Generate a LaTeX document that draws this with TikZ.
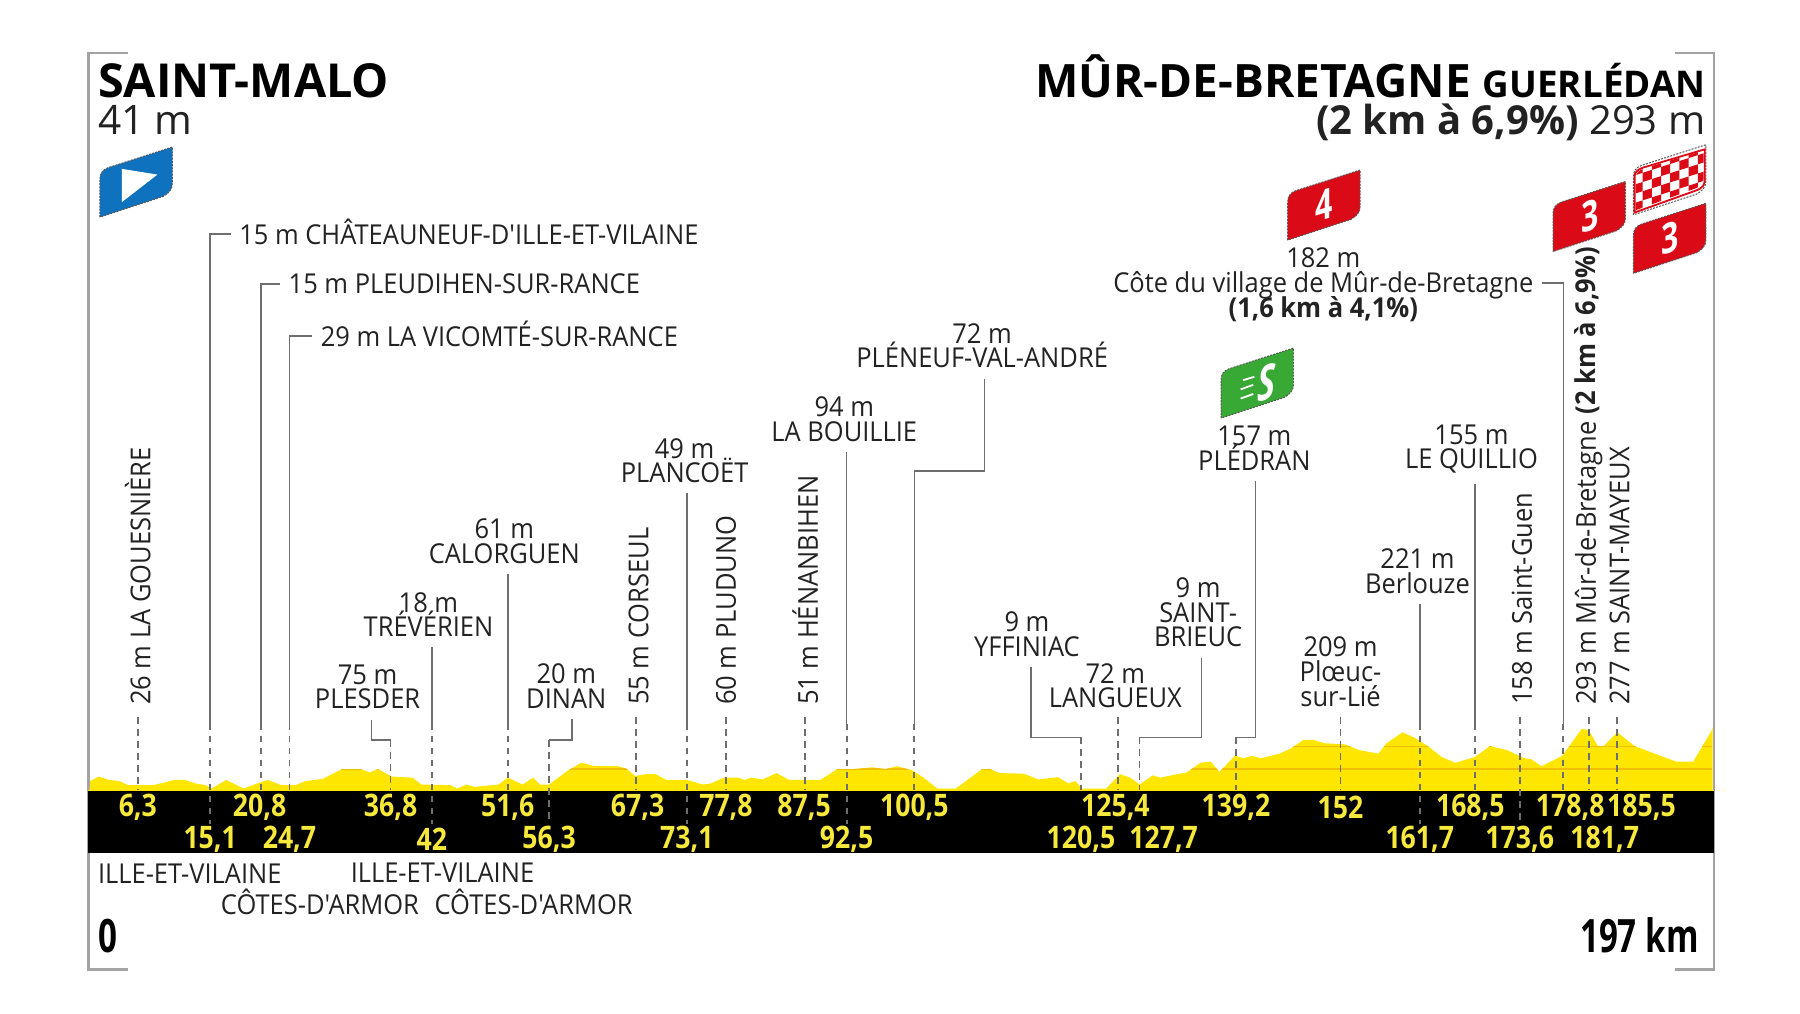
\documentclass[tikz,border=0pt]{standalone}
\usepackage{fontspec}
\setmainfont{Open Sans}
\newfontfamily\labelfont[FakeStretch=.93]{Open Sans}
\newfontfamily\numfont[FakeStretch=.86]{Open Sans}
\newfontfamily\bigfont[FakeStretch=.72]{Open Sans}
\newcommand\placefont{\labelfont\fontsize{13.7}{12.4}\selectfont\lineskiplimit=-6pt\relax}
\definecolor{stageyellow}{HTML}{FFE600}
\definecolor{contour}{HTML}{F2BE00}
\definecolor{numyellow}{HTML}{F7E83C}
\definecolor{flagred}{HTML}{DA0A16}
\definecolor{flagblue}{HTML}{0F72BE}
\definecolor{flaggreen}{HTML}{39A935}
\definecolor{framegrey}{HTML}{A3A3A3}
\definecolor{leadergrey}{HTML}{6E6E6E}
\definecolor{inkgrey}{HTML}{222222}
\tikzset{
  place/.style={text=inkgrey, inner sep=0pt, align=center, font=\placefont},
  placeleft/.style={place, anchor=west},
  placeup/.style={place, anchor=west, rotate=90},
  kmnum/.style={text=numyellow, inner sep=0pt,
    font=\numfont\bfseries\fontsize{15.5}{15}\selectfont},
  leader/.style={draw=leadergrey, line width=.85pt},
  stopline/.style={draw=leadergrey, line width=.9pt, dash pattern=on 3.4pt off 2.6pt},
  flagmark/.style={text=white, inner sep=0pt, yslant=.3,
    font=\bigfont\bfseries\fontsize{21}{21}\selectfont},
  pics/flagshape/.style={code={
    \path[fill=#1, draw=black!65, line width=.5pt, dash pattern=on 1pt off .6pt]
      (0,0) -- (0,-33) .. controls (0,-38) and (2,-41) .. (7,-43) -- (63,-61)
      -- (63,-29) .. controls (63,-24) and (60,-21) .. (55,-18) -- cycle;
  }}
}
\begin{document}
\begin{tikzpicture}[x=.5744pt, y=-.5744pt]
  \useasboundingbox (0,0) rectangle (1567,881.9);

  % frame
  \coordinate (tl) at (77,46);
  \coordinate (tr) at (1492,46);
  \coordinate (bl) at (77,844);
  \coordinate (br) at (1492,844);
  \coordinate (tla) at (111,46);
  \coordinate (tra) at (1458,46);
  \coordinate (bla) at (111,844);
  \coordinate (bra) at (1458,844);
  \draw [framegrey, line width=1.3pt] (tla) -- (tl) -- (bl) -- (bla);
  \draw [framegrey, line width=1.3pt] (tra) -- (tr) -- (br) -- (bra);

  % profile
  \def\stageprofile{(78,688) -- (78.5,680) -- (86,676) -- (95,679) -- (104,680) -- (111.5,683.5)
    -- (134,683.5) -- (152,679) -- (161,679) -- (170,682) -- (179,683.5) -- (184,686.5)
    -- (197,679) -- (212,686.5) -- (224,682) -- (233,679) -- (245,683.5) -- (257,683.5)
    -- (266,680) -- (281,678) -- (298,669.5) -- (314,669.5) -- (322,672.5) -- (329,669.5)
    -- (341,676) -- (359,677) -- (367,683) -- (392,683.5) -- (398,686.5) -- (406,683)
    -- (413,685) -- (434,683) -- (442,677) -- (455,683) -- (464,677) -- (470,683)
    -- (478,683) -- (494,671) -- (506,664) -- (518,667) -- (538,667) -- (545,669)
    -- (553,675.5) -- (562,674) -- (571,674) -- (580,679) -- (598,679) -- (612,683)
    -- (619,682) -- (630,677) -- (643,677) -- (648,679) -- (654,677) -- (664,678.5)
    -- (676,673) -- (687,679) -- (714,679) -- (729,669.5) -- (744,669.5) -- (759,668)
    -- (771,669.5) -- (781,667) -- (795,671) -- (804,677) -- (816,686.5) -- (832,686.5)
    -- (855,669.5) -- (862,669.5) -- (870,673) -- (891,673.5) -- (904,678.5) -- (921,676.5)
    -- (930,682) -- (936,680) -- (942,686.5) -- (963,686.5) -- (975,674) -- (984,677)
    -- (992,683) -- (1003.5,675) -- (1010,677) -- (1027,673.5) -- (1033,672.5) -- (1045,664)
    -- (1054,663) -- (1061.5,672) -- (1075,658) -- (1082.5,660) -- (1090,658) -- (1098,660)
    -- (1114,656) -- (1123,652) -- (1135,644) -- (1143,644) -- (1153,647) -- (1171,648)
    -- (1183,653) -- (1200,656) -- (1207,647) -- (1221,637.5) -- (1231,642) -- (1243,649.5)
    -- (1255,659) -- (1267,664) -- (1284,659) -- (1297,649.5) -- (1312,653) -- (1327,660)
    -- (1333,661) -- (1342,667) -- (1360,658) -- (1377,634.5) -- (1383,635.5) -- (1391,649.5)
    -- (1396,649.5) -- (1408,637.5) -- (1423,649.5) -- (1459,663) -- (1474,663)
    -- (1489.5,637) -- (1491,633) -- (1491,688) -- cycle}
  \fill [stageyellow] \stageprofile;
  \begin{scope}
    \clip \stageprofile;
    \draw [contour, line width=.6pt] (78,669.5) -- (1491,669.5);
    \draw [contour, line width=.6pt] (78,650) -- (1491,650);
  \end{scope}
  \fill [black] (77,688) rectangle (1492,743);
  \draw [stageyellow, line width=.6pt] (77,688) -- (1492,688);

  % town labels
  \node (gouesniere) [placeup] at (120,614) {26 m LA GOUESNIÈRE};
  \node (chateauneuf) [placeleft] at (208,202) {15 m CHÂTEAUNEUF-D'ILLE-ET-VILAINE};
  \node (pleudihen) [placeleft] at (251,247) {15 m PLEUDIHEN-SUR-RANCE};
  \node (vicomte) [placeleft] at (279,291) {29 m LA VICOMTÉ-SUR-RANCE};
  \node (plesder) [place] at (320,598) {75 m\\PLESDER};
  \node (treverien) [place] at (373,535) {18 m\\TRÉVÉRIEN};
  \node (calorguen) [place] at (439,471) {61 m\\CALORGUEN};
  \node (dinan) [place] at (493,597) {20 m\\DINAN};
  \node (corseul) [placeup] at (556,614) {55 m CORSEUL};
  \node (plancoet) [place] at (596,401) {49 m\\PLANCOËT};
  \node (pluduno) [placeup] at (632,614) {60 m PLUDUNO};
  \node (henanbihen) [placeup] at (701,614) {51 m HÉNANBIHEN};
  \node (bouillie) [place] at (735,365) {94 m\\LA BOUILLIE};
  \node (pleneuf) [place] at (855,301) {72 m\\PLÉNEUF-VAL-ANDRÉ};
  \node (yffiniac) [place] at (894,552) {9 m\\YFFINIAC};
  \node (langueux) [place] at (971,597) {72 m\\LANGUEUX};
  \node (brieuc) [place] at (1043,533) {9 m\\SAINT-\\BRIEUC};
  \node (pledran) [place] at (1092,390) {157 m\\PLÉDRAN};
  \node (ploeuc) [place] at (1167,585) {209 m\\Plœuc-\\sur-Lié};
  \node (berlouze) [place] at (1234,497) {221 m\\Berlouze};
  \node (quillio) [place] at (1281,391) {155 m\\LE QUILLIO};
  \node (saintguen) [placeup] at (1325,614) {158 m Saint-Guen};
  \node (cote) [place] at (1152,248) {182 m\\Côte du village de Mûr-de-Bretagne\\{\bfseries (1,6 km à 4,1\%)}};
  \node (murbas) [placeup] at (1383,614) {293 m Mûr-de-Bretagne {\bfseries (2 km à 6,9\%)}};
  \node (mayeux) [placeup] at (1410,614) {277 m SAINT-MAYEUX};

  % km numbers
  \node (k63) [kmnum] at (120,703) {6,3};
  \node (k208) [kmnum] at (226,703) {20,8};
  \node (k368) [kmnum] at (340,703) {36,8};
  \node (k516) [kmnum] at (442,703) {51,6};
  \node (k673) [kmnum] at (555,703) {67,3};
  \node (k778) [kmnum] at (632,703) {77,8};
  \node (k875) [kmnum] at (700,703) {87,5};
  \node (k1005) [kmnum] at (796,703) {100,5};
  \node (k1254) [kmnum] at (971,703) {125,4};
  \node (k1392) [kmnum] at (1076,703) {139,2};
  \node (k152) [kmnum] at (1167,703) {152};
  \node (k1685) [kmnum] at (1280,703) {168,5};
  \node (k1788) [kmnum] at (1367,703) {178,8};
  \node (k1855) [kmnum] at (1429,703) {185,5};
  \node (k151) [kmnum] at (183,731) {15,1};
  \node (k247) [kmnum] at (252,731) {24,7};
  \node (k42) [kmnum] at (376,731) {42};
  \node (k563) [kmnum] at (478,731) {56,3};
  \node (k731) [kmnum] at (598,731) {73,1};
  \node (k925) [kmnum] at (737,731) {92,5};
  \node (k1205) [kmnum] at (941,731) {120,5};
  \node (k1277) [kmnum] at (1013,731) {127,7};
  \node (k1617) [kmnum] at (1236,731) {161,7};
  \node (k1736) [kmnum] at (1323,731) {173,6};
  \node (k1817) [kmnum] at (1397,731) {181,7};

  % stops: top of the dashes and foot of the dashes
  \coordinate (t63) at (120,624);   \coordinate (f63) at (120,688);
  \coordinate (t151) at (183,630);  \coordinate (f151) at (183,717);
  \coordinate (t208) at (227,630);  \coordinate (f208) at (227,688);
  \coordinate (t247) at (252,630);  \coordinate (f247) at (252,688);
  \coordinate (t368) at (340,644);  \coordinate (f368) at (340,688);
  \coordinate (t42) at (376,630);   \coordinate (f42) at (376,717);
  \coordinate (t516) at (442,630);  \coordinate (f516) at (442,688);
  \coordinate (t563) at (478,644);  \coordinate (f563) at (478,717);
  \coordinate (t673) at (554,624);  \coordinate (f673) at (554,688);
  \coordinate (t731) at (598,630);  \coordinate (f731) at (598,717);
  \coordinate (t778) at (632,624);  \coordinate (f778) at (632,688);
  \coordinate (t875) at (701,624);  \coordinate (f875) at (701,688);
  \coordinate (t925) at (737,630);  \coordinate (f925) at (737,717);
  \coordinate (t1005) at (796,630); \coordinate (f1005) at (796,688);
  \coordinate (t1205) at (941,642); \coordinate (f1205) at (941,688);
  \coordinate (t1254) at (973,624); \coordinate (f1254) at (973,688);
  \coordinate (t1277) at (992,642); \coordinate (f1277) at (992,688);
  \coordinate (t1392) at (1076,642); \coordinate (f1392) at (1076,688);
  \coordinate (t152) at (1167,624); \coordinate (f152) at (1167,688);
  \coordinate (t1617) at (1236,630); \coordinate (f1617) at (1236,717);
  \coordinate (t1685) at (1284,630); \coordinate (f1685) at (1284,688);
  \coordinate (t1736) at (1323,624); \coordinate (f1736) at (1323,717);
  \coordinate (t1788) at (1361,630); \coordinate (f1788) at (1361,688);
  \coordinate (t1817) at (1383,624); \coordinate (f1817) at (1383,688);
  \coordinate (t1855) at (1408,624); \coordinate (f1855) at (1408,688);

  \draw [stopline] (t63) -- (f63);
  \draw [stopline] (t151) -- (f151);
  \draw [stopline] (t208) -- (f208);
  \draw [stopline] (t247) -- (f247);
  \draw [stopline] (t368) -- (f368);
  \draw [stopline] (t42) -- (f42);
  \draw [stopline] (t516) -- (f516);
  \draw [stopline] (t563) -- (f563);
  \draw [stopline] (t673) -- (f673);
  \draw [stopline] (t731) -- (f731);
  \draw [stopline] (t778) -- (f778);
  \draw [stopline] (t875) -- (f875);
  \draw [stopline] (t925) -- (f925);
  \draw [stopline] (t1005) -- (f1005);
  \draw [stopline] (t1205) -- (f1205);
  \draw [stopline] (t1254) -- (f1254);
  \draw [stopline] (t1277) -- (f1277);
  \draw [stopline] (t1392) -- (f1392);
  \draw [stopline] (t152) -- (f152);
  \draw [stopline] (t1617) -- (f1617);
  \draw [stopline] (t1685) -- (f1685);
  \draw [stopline] (t1736) -- (f1736);
  \draw [stopline] (t1788) -- (f1788);
  \draw [stopline] (t1817) -- (f1817);
  \draw [stopline] (t1855) -- (f1855);

  % leaders from the labels
  \draw [leader] ([xshift=-4pt,yshift=-1pt]chateauneuf.west) -| (t151);
  \draw [leader] ([xshift=-4pt]pleudihen.west) -| (t208);
  \draw [leader] ([xshift=-4pt,yshift=-1pt]vicomte.west) -| (t247);
  \draw [leader] ([xshift=2pt,yshift=-5pt]plesder.south) |- (t368);
  \draw [leader] ([yshift=-5pt]treverien.south -| t42) -- (t42);
  \draw [leader] ([yshift=-5pt]calorguen.south -| t516) -- (t516);
  \draw [leader] ([xshift=3pt,yshift=-5pt]dinan.south) |- (t563);
  \draw [leader] ([yshift=-5pt]plancoet.south -| t731) -- (t731);
  \draw [leader] ([yshift=-5pt]bouillie.south -| t925) -- (t925);
  \coordinate (elbow) at (857,410);
  \draw [leader] ([yshift=-5pt]pleneuf.south -| elbow) -- (elbow) -| (t1005);
  \draw [leader] ([xshift=2pt,yshift=-5pt]yffiniac.south) |- (t1205);
  \draw [leader] ([xshift=1.7pt,yshift=-5pt]brieuc.south) |- (t1277);
  \draw [leader] ([xshift=.6pt,yshift=-5pt]pledran.south) |- (t1392);
  \draw [leader] ([yshift=-5pt]berlouze.south -| t1617) -- (t1617);
  \draw [leader] ([yshift=-5pt]quillio.south -| t1685) -- (t1685);
  \draw [leader] ([xshift=4pt,yshift=1pt]cote.east) -| (t1788);

  % head
  \node (start) [anchor=base west, inner sep=0pt, text=black,
    font=\bfseries\fontsize{23.4}{24}\selectfont] at (85,85) {SAINT-MALO};
  \node (startalt) [anchor=base west, inner sep=0pt, text=inkgrey,
    font=\fontsize{20.3}{21}\selectfont] at (85,117) {41 m};
  \node (finish) [anchor=base east, inner sep=0pt, text=black,
    font=\bfseries\fontsize{23}{24}\selectfont] at (1485,85)
    {MÛR-DE-BRETAGNE {\fontsize{18.4}{19}\selectfont GUERLÉDAN}};
  \node (finishalt) [anchor=base east, inner sep=0pt, text=inkgrey,
    font=\fontsize{20}{21}\selectfont] at (1485,117) {{\bfseries (2 km à 6,9\%)} 293 m};

  % flags
  \pic at (87,189) {flagshape=flagblue};
  \coordinate (t1) at (106,147);
  \coordinate (t2) at (137,152);
  \coordinate (t3) at (106,176);
  \fill [white] (t1) -- (t2) -- (t3) -- cycle;
  \pic at (1121,209) {flagshape=flagred};
  \node (climbfour) [flagmark] at (1153,178) {4};
  \pic at (1352,219) {flagshape=flagred};
  \node (climbthree) [flagmark] at (1384,188) {3};
  \pic at (1422,238) {flagshape=flagred};
  \node (finishthree) [flagmark] at (1454,207) {3};
  \pic at (1422,187) {flagshape=white};
  \begin{scope}
    \clip (1424,183) -- (1424,155) .. controls (1424,151) and (1426,149) .. (1430,147)
      -- (1483,131) -- (1483,156) .. controls (1483,160) and (1481,162) .. (1476,164) -- cycle;
    \begin{scope}[cm={1,.32,0,1,(1422,187)}]
      \foreach \i in {0,...,7} \foreach \j in {0,...,5} {
        \pgfmathparse{int(mod(\i+\j,2))}
        \ifnum\pgfmathresult=0
          \fill [flagred] (\i*8,-\j*8-2) rectangle ++(8,-8);
        \fi
      }
    \end{scope}
  \end{scope}
  \path [draw=flagred, line width=.9pt] (1423,185) -- (1423,154) .. controls (1423,150) and (1425,148) .. (1430,146)
      -- (1484,130) -- (1484,157) .. controls (1484,161) and (1482,164) .. (1476,166) -- cycle;
  \pic at (1063,364) {flagshape=flaggreen};
  \node (sprint) [flagmark, font=\bigfont\bfseries\itshape\fontsize{24}{24}\selectfont] at (1103,333) {S};
  \coordinate (s1a) at (1082,331); \coordinate (s1b) at (1092,328);
  \coordinate (s2a) at (1080,339); \coordinate (s2b) at (1091,335);
  \coordinate (s3a) at (1080,347); \coordinate (s3b) at (1091,343);
  \draw [white, line width=.9pt] (s1a) -- (s1b);
  \draw [white, line width=.9pt] (s2a) -- (s2b);
  \draw [white, line width=.9pt] (s3a) -- (s3b);

  % below the band
  \node (dep1) [placeleft] at (85,761) {ILLE-ET-VILAINE};
  \node (dep2) [placeleft] at (192,785) {CÔTES-D'ARMOR};
  \node (dep3) [placeleft] at (305,760) {ILLE-ET-VILAINE};
  \node (dep4) [placeleft] at (378,785) {CÔTES-D'ARMOR};
  \node (zero) [anchor=base west, inner sep=0pt, text=black,
    font=\bigfont\bfseries\fontsize{23}{23}\selectfont] at (85,829) {0};
  \node (total) [anchor=base east, inner sep=0pt, text=black,
    font=\bigfont\bfseries\fontsize{23}{23}\selectfont] at (1479,829) {197 km};
\end{tikzpicture}
\end{document}
